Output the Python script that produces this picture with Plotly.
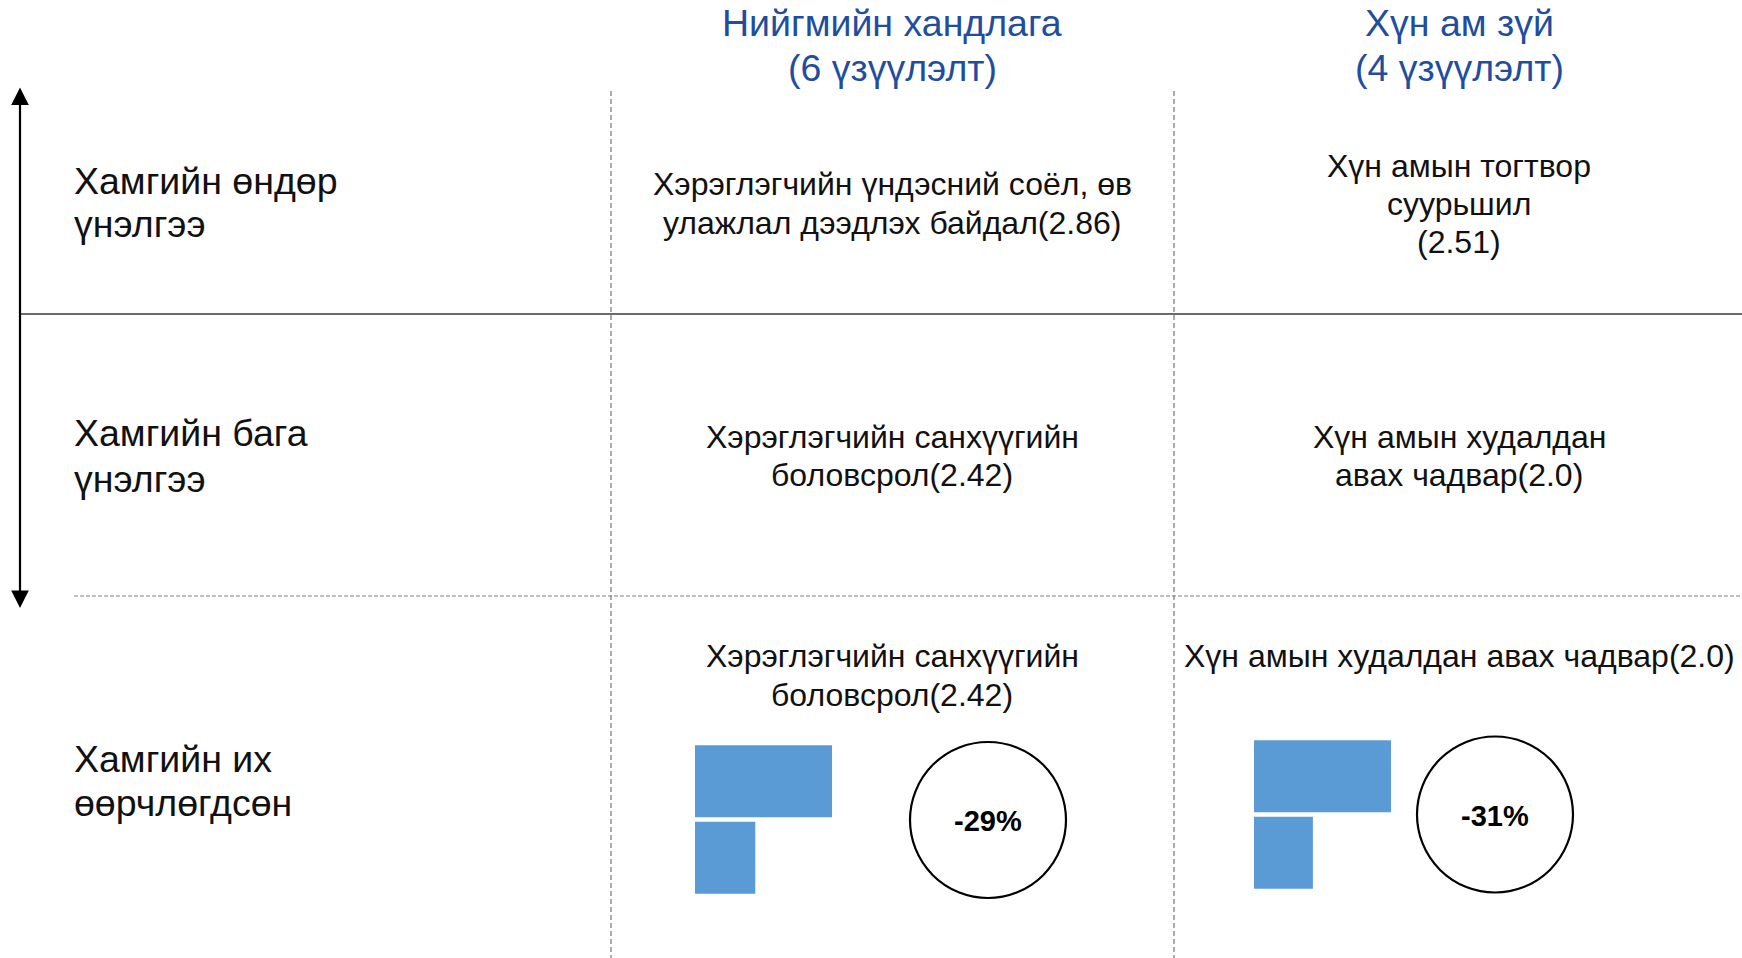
import plotly.graph_objects as go

# ---------------- data ----------------
column_headers = ["Нийгмийн хандлага", "Хүн ам зүй"]
indicator_counts = [6, 4]
row_labels = [["Хамгийн өндөр", "үнэлгээ"],
              ["Хамгийн бага", "үнэлгээ"],
              ["Хамгийн их", "өөрчлөгдсөн"]]
highest_names = [["Хэрэглэгчийн үндэсний соёл, өв", "улажлал дээдлэх байдал"],
                 ["Хүн амын тогтвор", "суурьшил", ""]]
highest_scores = [2.86, 2.51]
lowest_names = [["Хэрэглэгчийн санхүүгийн", "боловсрол"],
                ["Хүн амын худалдан", "авах чадвар"]]
lowest_scores = [2.42, 2.0]
changed_names = [["Хэрэглэгчийн санхүүгийн", "боловсрол"],
                 ["Хүн амын худалдан авах чадвар"]]
changed_scores = [2.42, 2.0]
change_pct = [-29, -31]
bar_before = [1.0, 1.0]
bar_after = [0.44, 0.43]

# ---------------- layout constants ----------------
W, H = 1742, 958
FONT = "Liberation Sans, Arial, sans-serif"
BLUE = "#1F4E9E"
TXT = "#111111"
BAR = "#5B9BD5"
col_x = [892, 1459]
col_lines = [611, 1174]

fig = go.Figure()
fig.add_trace(go.Scatter(x=[0, W], y=[0, H], mode="markers",
                         marker=dict(opacity=0), hoverinfo="skip", showlegend=False))

ann = []
def add_text(x, y, t, size, color=TXT, xanchor="center", bold=False):
    ann.append(dict(x=x, y=y, xref="x", yref="y", text=f"<b>{t}</b>" if bold else t,
                    showarrow=False, xanchor=xanchor, yanchor="middle",
                    font=dict(family=FONT, size=size, color=color)))

# headers
for i, h in enumerate(column_headers):
    add_text(col_x[i], 23, h, 37.5, BLUE)
    add_text(col_x[i], 68, f"({indicator_counts[i]} үзүүлэлт)", 37.5, BLUE)

# row labels
row_y = [[181, 224], [433, 479], [759, 803]]
for r, lab in enumerate(row_labels):
    for k, line in enumerate(lab):
        add_text(72, row_y[r][k], line, 37.5, xanchor="left")

def cell(names, score, ys, cx):
    lines = list(names)
    lines[-1] = lines[-1] + f"({score})"
    for line, y in zip(lines, ys):
        add_text(cx, y, line, 32)

cell(highest_names[0], highest_scores[0], [184, 223], col_x[0])
cell(highest_names[1], highest_scores[1], [166, 204, 242], col_x[1])
for i in range(2):
    cell(lowest_names[i], lowest_scores[i], [437, 475], col_x[i])
cell(changed_names[0], changed_scores[0], [656, 695], col_x[0])
cell(changed_names[1], changed_scores[1], [656], col_x[1])

# circles with percent change
circ = [(988, 820), (1495, 814.5)]
R = 78
shapes = []
for i, (cx, cy) in enumerate(circ):
    shapes.append(dict(type="circle", xref="x", yref="y", x0=cx - R, x1=cx + R,
                       y0=cy - R, y1=cy + R, line=dict(color="#000000", width=2.2)))
    add_text(cx, cy + 1, f"{change_pct[i]}%", 29, "#000000", bold=True)

# grid lines
shapes.append(dict(type="line", xref="x", yref="y", x0=20, x1=W, y0=314, y1=314,
                   line=dict(color="#3a3a3a", width=1.6)))
shapes.append(dict(type="line", xref="x", yref="y", x0=74, x1=W, y0=596, y1=596,
                   line=dict(color="#ababab", width=1.4, dash="4px,2px")))
for xl in col_lines:
    shapes.append(dict(type="line", xref="x", yref="y", x0=xl, x1=xl, y0=91, y1=H,
                       line=dict(color="#8a8a8a", width=1.4, dash="5px,3px")))

# double-headed arrow
ann.append(dict(x=20, y=608, ax=20, ay=86, xref="x", yref="y", axref="x", ayref="y",
                text="", showarrow=True, arrowhead=2, startarrowhead=2, arrowside="end+start",
                arrowsize=1.6, startarrowsize=1.6, arrowwidth=2.2, arrowcolor="#000000",
                standoff=0, startstandoff=0))

# mini bar charts (before / after)
bar_domains = [
    dict(x=[695 / W, 832 / W], y=[1 - 896 / H, 1 - 743 / H]),
    dict(x=[1254 / W, 1391 / W], y=[1 - 891 / H, 1 - 738 / H]),
]
for i in range(2):
    xa = f"x{i + 2}"
    ya = f"y{i + 2}"
    fig.add_trace(go.Bar(x=[bar_before[i], bar_after[i]], y=[0, 1], orientation="h",
                         width=0.94, marker=dict(color=BAR, line=dict(width=0)),
                         xaxis=xa, yaxis=ya, hoverinfo="skip", showlegend=False))
    fig.layout[f"xaxis{i + 2}"] = dict(domain=bar_domains[i]["x"], range=[0, 1], visible=False,
                                       anchor=ya, fixedrange=True)
    fig.layout[f"yaxis{i + 2}"] = dict(domain=bar_domains[i]["y"], range=[1.5, -0.5], visible=False,
                                       anchor=xa, fixedrange=True)

fig.update_layout(
    width=W, height=H, margin=dict(l=0, r=0, t=0, b=0),
    paper_bgcolor="white", plot_bgcolor="white",
    xaxis=dict(range=[0, W], visible=False, domain=[0, 1], fixedrange=True),
    yaxis=dict(range=[H, 0], visible=False, domain=[0, 1], fixedrange=True),
    annotations=ann, shapes=shapes, showlegend=False,
)

fig.write_html("out.html", config={"displayModeBar": False},
               post_script="document.body.style.margin='0';document.body.style.overflow='hidden';")
